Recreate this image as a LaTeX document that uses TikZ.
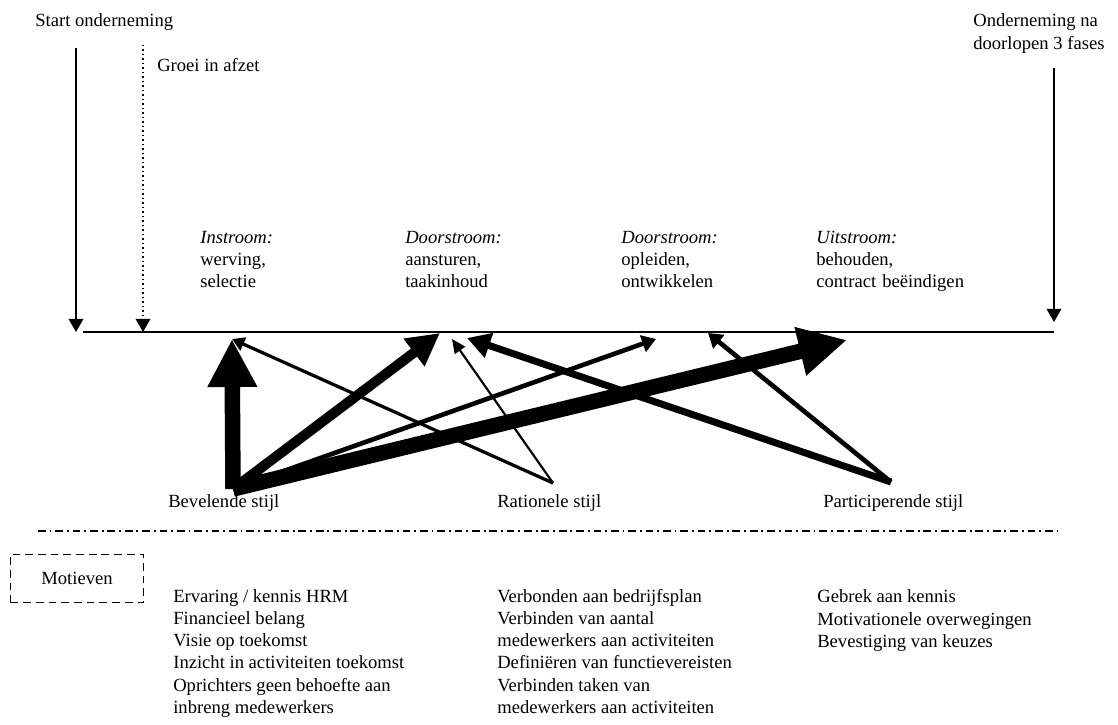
\documentclass[tikz,border=0pt]{standalone}
\usepackage{fontspec}
\setmainfont{Liberation Serif}
\usetikzlibrary{arrows.meta}
\usetikzlibrary{positioning}

\tikzset{
  tekst/.style={inner sep=0pt, anchor=base west, align=left, font=\fontsize{12}{14.2}\selectfont},
  fase/.style={tekst, text width=3.6cm},
  tijdpijl/.style={line width=0.9pt, -{Triangle[width=9.5pt,length=8.5pt]}},
  zeerdik/.style={line width=10pt, -{Triangle[width=30pt,length=31pt]}},
  dik/.style={line width=6.5pt, -{Triangle[width=21pt,length=21pt]}},
  middel/.style={line width=4.5pt, -{Triangle[width=16pt,length=15pt]}},
  normaal/.style={line width=3pt, -{Triangle[width=11pt,length=9pt]}},
  dun/.style={line width=2.1pt, -{Triangle[width=9pt,length=8pt]}},
  fijn/.style={line width=1.4pt, -{Triangle[width=8pt,length=9pt]}}
}

\begin{document}
\begin{tikzpicture}[x=0.02267cm, y=-0.02267cm]
  \useasboundingbox (0,0) rectangle (1118,724);

  % Tijdlijn met begin en eind (base = laatste regel)
  \node[tekst] (start) at (35,26) {Start onderneming};
  \node[tekst] (groei) at (157,71) {Groei in afzet};
  \node[tekst] (eind) at (973,49) {Onderneming na\\doorlopen 3 fases};

  \coordinate (startboven) at (76,48);
  \coordinate (startonder) at (76,332);
  \coordinate (groeiboven) at (143,45);
  \coordinate (groeionder) at (143,332);
  \coordinate (eindboven) at (1054,68);
  \coordinate (eindonder) at (1054,322);
  \coordinate (lijnlinks) at (83,332);
  \coordinate (lijnrechts) at (1054,332);

  \draw[tijdpijl] (startboven) -- (startonder);
  \draw[tijdpijl, dotted] (groeiboven) -- (groeionder);
  \draw[tijdpijl] (eindboven) -- (eindonder);
  \draw[line width=1pt] (lijnlinks) -- (lijnrechts);

  % Fases (base = eerste regel)
  \node[fase] (instroom) at (200,243) {\textit{Instroom:}\\werving,\\selectie};
  \node[fase] (doorstroom1) at (405,243) {\textit{Doorstroom:}\\aansturen,\\taakinhoud};
  \node[fase] (doorstroom2) at (621,243) {\textit{Doorstroom:}\\opleiden,\\ontwikkelen};
  \node[fase] (uitstroom) at (816,243) {\textit{Uitstroom:}\\behouden,\\contract beëindigen};

  % Stijlen
  \node[tekst] (bevelend) at (168,507) {Bevelende stijl};
  \node[tekst] (rationeel) at (497,507) {Rationele stijl};
  \node[tekst] (participerend) at (823,507) {Participerende stijl};

  \coordinate (bev) at (233,489);
  \coordinate (rat) at (553,483);
  \coordinate (par) at (891,482);
  \coordinate (doelin) at (232,339);
  \coordinate (doeldoor) at (440,333);
  \coordinate (doeldoorR) at (452,339);
  \coordinate (doeldoorP) at (467,338);
  \coordinate (doelont) at (656,339);
  \coordinate (doelontP) at (708,333);
  \coordinate (doeluit) at (847,340);

  \draw[zeerdik] (bev) -- (doelin);
  \draw[dik] (bev) -- (doeldoor);
  \draw[normaal] (bev) -- (doelont);
  \draw[zeerdik] (bev) -- (doeluit);
  \draw[dun] (rat) -- (doelin);
  \draw[fijn] (rat) -- (doeldoorR);
  \draw[middel] (par) -- (doeldoorP);
  \draw[normaal] (par) -- (doelontP);

  % Scheiding en motieven
  \coordinate (scheidlinks) at (38,531);
  \coordinate (scheidrechts) at (1057,531);
  \draw[line width=0.8pt, dash pattern=on 5pt off 2.5pt on 1.2pt off 2.5pt] (scheidlinks) -- (scheidrechts);

  \node[draw, dashed, line width=0.8pt, dash pattern=on 5pt off 3.2pt, minimum width=3.02cm, minimum height=1.1cm,
        font=\fontsize{12}{14.2}\selectfont] (motieven) at (77,578.5) {Motieven};

  \node[tekst] (motbev) at (173,713) {Ervaring / kennis HRM\\Financieel belang\\Visie op toekomst\\Inzicht in activiteiten toekomst\\Oprichters geen behoefte aan\\inbreng medewerkers};
  \node[tekst] (motrat) at (497,713) {Verbonden aan bedrijfsplan\\Verbinden van aantal\\medewerkers aan activiteiten\\Definiëren van functievereisten\\Verbinden taken van\\medewerkers aan activiteiten};
  \node[tekst] (motpar) at (817,647) {Gebrek aan kennis\\Motivationele overwegingen\\Bevestiging van keuzes};
\end{tikzpicture}
\end{document}
